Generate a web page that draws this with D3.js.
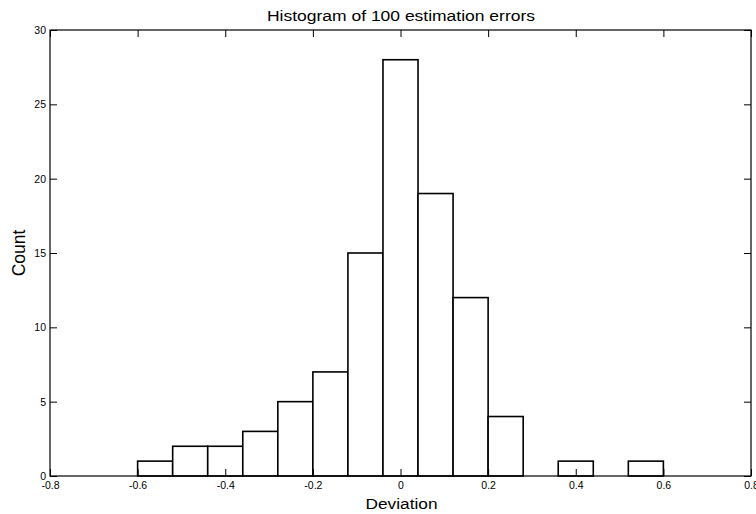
<!DOCTYPE html>
<html><head><meta charset="utf-8">
<script src="https://cdn.jsdelivr.net/npm/d3@7"></script>
<style>body{margin:0;background:#fff}svg{display:block}text{font-family:"Liberation Sans",Arial,sans-serif;fill:#000}</style>
</head><body><svg id="c" width="756" height="514"></svg>
<script>
const binEdges = [-0.6,-0.52,-0.44,-0.36,-0.28,-0.2,-0.12,-0.04,0.04,0.12,0.2,0.28,0.36,0.44,0.52,0.6];
const counts = [1,2,2,3,5,7,15,28,19,12,4,0,1,0,1];
const xTicks = [-0.8,-0.6,-0.4,-0.2,0,0.2,0.4,0.6,0.8];
const yTicks = [0,5,10,15,20,25,30];

const svg = d3.select("#c");
const L=50,R=751,T=30,B=476;
const x = d3.scaleLinear().domain([-0.8,0.8]).range([L,R]);
const y = d3.scaleLinear().domain([0,30]).range([B,T]);

const bins = counts.map((c,i)=>({x0:binEdges[i],x1:binEdges[i+1],c}));
svg.append("g").selectAll("rect").data(bins).join("rect")
  .attr("x",d=>x(d.x0)).attr("width",d=>x(d.x1)-x(d.x0))
  .attr("y",d=>y(d.c)).attr("height",d=>y(0)-y(d.c))
  .attr("fill","#fff").attr("stroke","#000").attr("stroke-width",1.6);

const fmt = d=> d===0 ? "0" : d3.format(".1f")(d).replace("\u2212","-");
const tl=7;
const ax = (g)=>{g.selectAll(".domain").remove(); g.selectAll("text").style("font-size","10.5px");};
svg.append("g").attr("transform",`translate(0,${B})`)
  .call(d3.axisBottom(x).tickValues(xTicks).tickFormat(fmt).tickSizeInner(-tl).tickSizeOuter(0).tickPadding(5.5))
  .call(ax);
svg.append("g").attr("transform",`translate(0,${T})`)
  .call(d3.axisTop(x).tickValues(xTicks).tickFormat("").tickSizeInner(-tl).tickSizeOuter(0))
  .call(ax);
svg.append("g").attr("transform",`translate(${L},0)`)
  .call(d3.axisLeft(y).tickValues(yTicks).tickSizeInner(-tl).tickSizeOuter(0).tickPadding(4))
  .call(ax);
svg.append("g").attr("transform",`translate(${R},0)`)
  .call(d3.axisRight(y).tickValues(yTicks).tickFormat("").tickSizeInner(-tl).tickSizeOuter(0))
  .call(ax);

svg.append("rect").attr("x",L).attr("y",T).attr("width",R-L).attr("height",B-T)
  .attr("fill","none").attr("stroke","#000").attr("stroke-width",1.2);

svg.append("text").attr("x",267).attr("y",20.7)
  .attr("textLength",268).attr("lengthAdjust","spacingAndGlyphs")
  .style("font-size","14px").text("Histogram of 100 estimation errors");
svg.append("text").attr("x",365.5).attr("y",509)
  .attr("textLength",72).attr("lengthAdjust","spacingAndGlyphs")
  .style("font-size","14px").text("Deviation");
svg.append("text").attr("transform",`translate(24.5,${(T+B)/2}) rotate(-90)`).attr("text-anchor","middle")
  .style("font-size","17.5px").text("Count");
</script></body></html>
